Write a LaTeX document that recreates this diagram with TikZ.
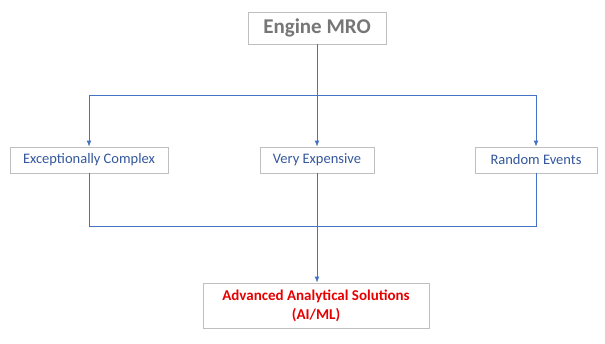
\documentclass[tikz,border=0pt]{standalone}
\usepackage{fontspec}
\setmainfont{Carlito}
\usetikzlibrary{arrows.meta}
\definecolor{linec}{RGB}{68,114,196}
\definecolor{boxc}{RGB}{191,191,191}
\definecolor{txtc}{RGB}{52,88,156}
\definecolor{grayt}{RGB}{118,118,118}
\definecolor{redt}{RGB}{230,0,0}
\begin{document}
\begin{tikzpicture}[x=1pt,y=-1pt,
  box/.style={draw=boxc,line width=0.8pt,fill=white,inner sep=0pt,align=center},
  conn/.style={draw=linec,line width=0.9pt},
  arr/.style={conn,-{Latex[length=6pt,width=5pt]}}]
\useasboundingbox (0,0) rectangle (605,343);
\node[box,minimum width=138pt,minimum height=32pt,text=grayt,font=\fontsize{21}{25}\selectfont\bfseries] (engine) at (317,28) {Engine MRO};
\node[box,minimum width=158pt,minimum height=26pt,text=txtc,font=\fontsize{14.5}{17}\selectfont] (exc) at (89,160) {Exceptionally Complex};
\node[box,minimum width=114pt,minimum height=26pt,text=txtc,font=\fontsize{14.5}{17}\selectfont] (ve) at (317,160) {Very Expensive};
\node[box,minimum width=122pt,minimum height=26pt,text=txtc,font=\fontsize{14.5}{17}\selectfont] (re) at (536,160) {Random Events};
\node[box,minimum width=226pt,minimum height=45pt,text=redt,font=\fontsize{15}{19}\selectfont\bfseries] (adv) at (316,305.5) {Advanced Analytical Solutions\\(AI/ML)};
\coordinate (tm) at (317,95);
\coordinate (tl) at (89,95);
\coordinate (tr) at (536,95);
\coordinate (bl) at (89,226);
\coordinate (br) at (536,226);
\draw[conn] (engine.south) -- (tm);
\draw[conn] (tl) -- (tr);
\draw[arr] (tl) -- (exc.north);
\draw[arr] (tm) -- (ve.north);
\draw[arr] (tr) -- (re.north);
\draw[conn] (exc.south) -- (bl) -- (br) -- (re.south);
\draw[arr] (ve.south) -- (ve.south |- adv.north);
\end{tikzpicture}
\end{document}
